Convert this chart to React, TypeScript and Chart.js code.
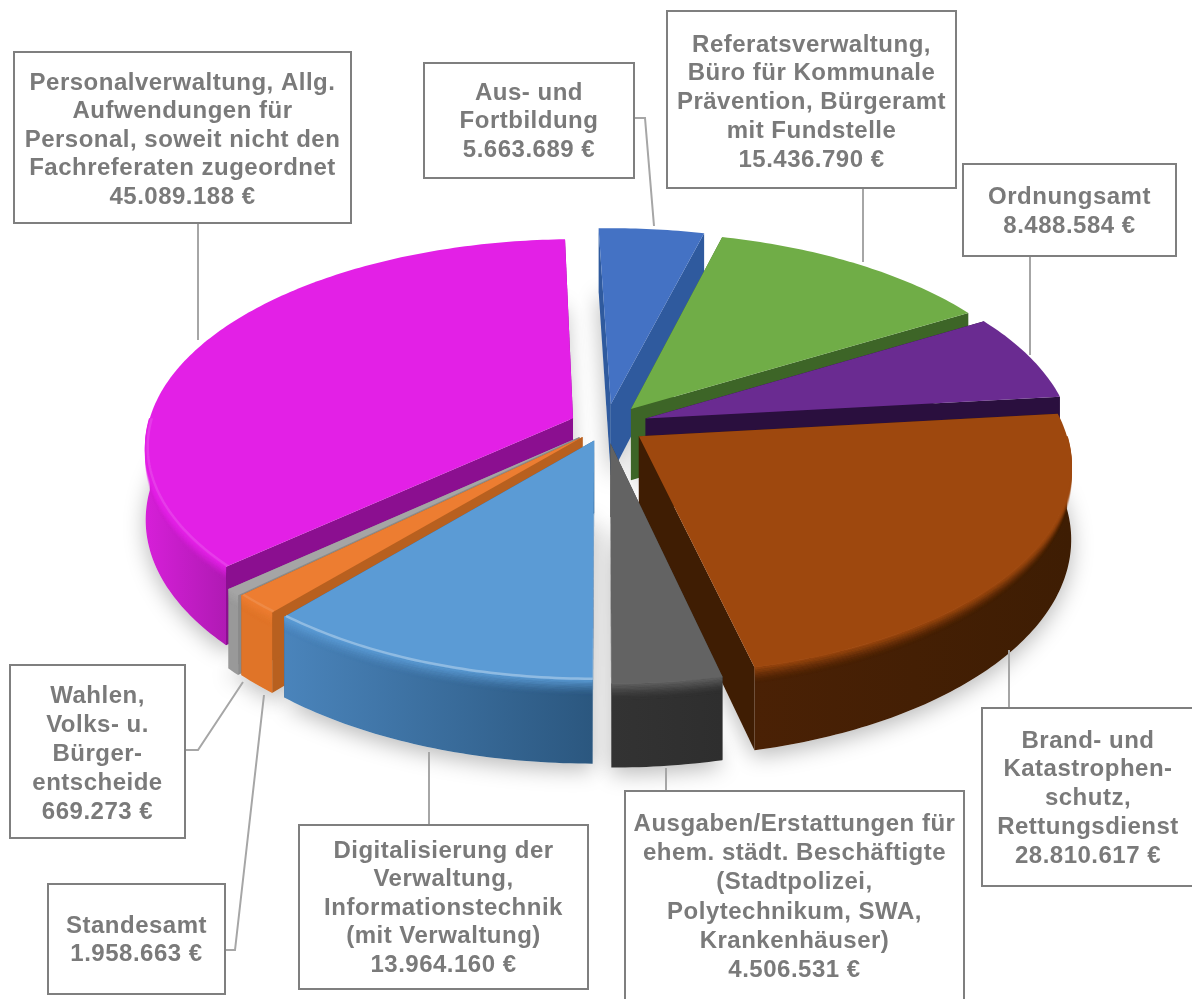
import React, { useEffect, useRef } from "react";
import { Chart, registerables } from "chart.js";

Chart.register(...registerables);

const categories: string[][] = [
  ["Aus- und", "Fortbildung"],
  ["Referatsverwaltung,", "Büro für Kommunale", "Prävention, Bürgeramt", "mit Fundstelle"],
  ["Ordnungsamt"],
  ["Brand- und", "Katastrophen-", "schutz,", "Rettungsdienst"],
  ["Ausgaben/Erstattungen für", "ehem. städt. Beschäftigte", "(Stadtpolizei,", "Polytechnikum, SWA,", "Krankenhäuser)"],
  ["Digitalisierung der", "Verwaltung,", "Informationstechnik", "(mit Verwaltung)"],
  ["Standesamt"],
  ["Wahlen,", "Volks- u.", "Bürger-", "entscheide"],
  ["Personalverwaltung, Allg.", "Aufwendungen für", "Personal, soweit nicht den", "Fachreferaten zugeordnet"],
];
const values = [5663689, 15436790, 8488584, 28810617, 4506531, 13964160, 1958663, 669273, 45089188];
const explode = [44, 42, 42, 40, 38, 34, 34, 36, 36];
const topColors = ["#4472c4", "#70ad47", "#6a2b91", "#9e480e", "#636363", "#5b9bd5", "#ed7d31", "#a5a5a5", "#e320e6"];
const faceColors = ["#2f5a9e", "#3d6527", "#2a0f3e", "#3f1d03", "#3a3a3a", "#2f5f8f", "#b8601f", "#8a8a8a", "#8b0f90"];
const wallLeft = ["#2f5a9e", "#4a7a2c", "#451b63", "#4a2105", "#333333", "#4a84bb", "#e07428", "#999999", "#d61fd8"];
const wallRight = ["#2f5a9e", "#4a7a2c", "#3a1554", "#3e1d03", "#2e2e2e", "#2b577f", "#e07428", "#999999", "#b01ab4"];
const rimHighlight = [0, 0, 0, 0, 0, 0.32, 0.1, 0, 0.12];

const labelBoxes = [
  { x: 424, y: 63, w: 210, h: 115, first: 93, step: 28.5 },
  { x: 667, y: 11, w: 289, h: 177, first: 45, step: 28.8 },
  { x: 963, y: 164, w: 213, h: 92, first: 197, step: 29 },
  { x: 982, y: 708, w: 212, h: 178, first: 741, step: 28.8 },
  { x: 625, y: 791, w: 339, h: 210, first: 824, step: 29.3 },
  { x: 299, y: 825, w: 289, h: 164, first: 851, step: 28.5 },
  { x: 48, y: 884, w: 177, h: 110, first: 926, step: 28.5 },
  { x: 10, y: 665, w: 175, h: 173, first: 696, step: 29 },
  { x: 14, y: 52, w: 337, h: 171, first: 83, step: 28.5 },
];
const leaders: number[][][] = [
  [[634, 118], [645, 118], [654, 226]],
  [[863, 188], [863, 262]],
  [[1030, 256], [1030, 355]],
  [[1009, 708], [1009, 650]],
  [[666, 791], [666, 768]],
  [[429, 825], [429, 752]],
  [[225, 950], [235, 950], [264, 695]],
  [[185, 750], [198, 750], [243, 682]],
  [[198, 223], [198, 340]],
];

const TILT = 0.48;
const PERSPECTIVE = 0.13;
const DEPTH = 72;
const BEVEL = 15;

const fmt = (n: number) => String(n).replace(/\B(?=(\d{3})+(?!\d))/g, ".") + " €";

function mix(a: string, b: string, t: number) {
  const pa = [1, 3, 5].map((i) => parseInt(a.slice(i, i + 2), 16));
  const pb = [1, 3, 5].map((i) => parseInt(b.slice(i, i + 2), 16));
  return `rgb(${pa.map((c, i) => Math.round(c + (pb[i] - c) * t)).join(",")})`;
}

function projector(el: any) {
  const R = el.outerRadius;
  const mid = (el.startAngle + el.endAngle) / 2;
  const d = el.options.offset || 0;
  return (alpha: number, r: number, z: number) => {
    const u = r * Math.cos(alpha) + d * Math.cos(mid);
    const v = r * Math.sin(alpha) + d * Math.sin(mid);
    const s = 1 / (1 - (PERSPECTIVE * v) / R);
    return [el.x + u * s, el.y + TILT * v * s + z * s];
  };
}

function samples(a0: number, a1: number) {
  const n = Math.max(2, Math.ceil((a1 - a0) / 0.015));
  return Array.from({ length: n + 1 }, (_, i) => a0 + ((a1 - a0) * i) / n);
}

function poly(ctx: CanvasRenderingContext2D, pts: number[][]) {
  ctx.beginPath();
  pts.forEach((p, i) => (i ? ctx.lineTo(p[0], p[1]) : ctx.moveTo(p[0], p[1])));
  ctx.closePath();
}

const pie3d = {
  id: "pie3d",
  beforeDatasetsDraw(chart: any) {
    const ctx: CanvasRenderingContext2D = chart.ctx;
    const arcs: any[] = chart.getDatasetMeta(0).data;
    const order = arcs
      .map((el, i) => ({ i, key: Math.sin((el.startAngle + el.endAngle) / 2) }))
      .sort((a, b) => a.key - b.key)
      .map((o) => o.i);

    // soft shadow on the ground
    ctx.save();
    ctx.shadowColor = "rgba(0,0,0,0.28)";
    ctx.shadowBlur = 22;
    ctx.shadowOffsetY = 6;
    ctx.fillStyle = "#efefef";
    arcs.forEach((el) => {
      const P = projector(el);
      const pts = [P(0, 0, DEPTH), ...samples(el.startAngle, el.endAngle).map((a) => P(a, el.outerRadius, DEPTH))];
      poly(ctx, pts);
      ctx.fill();
    });
    ctx.restore();

    order.forEach((i) => {
      const el = arcs[i];
      const P = projector(el);
      const R = el.outerRadius;
      // cut faces
      ctx.fillStyle = faceColors[i];
      [el.startAngle, el.endAngle].forEach((a) => {
        poly(ctx, [P(a, 0, 0), P(a, R, 0), P(a, R, DEPTH), P(a, 0, DEPTH)]);
        ctx.fill();
      });
      // outer wall: front half only
      const a0 = Math.max(el.startAngle, 0);
      const a1 = Math.min(el.endAngle, Math.PI);
      const frontRanges: number[][] = [];
      if (a1 > a0) frontRanges.push([a0, a1]);
      frontRanges.forEach(([f0, f1]) => {
        const sm = samples(f0, f1);
        const top = sm.map((a) => P(a, R, 0));
        const bottom = sm.map((a) => P(a, R, DEPTH));
        const xs = top.map((p) => p[0]);
        const g = ctx.createLinearGradient(Math.min(...xs), 0, Math.max(...xs), 0);
        g.addColorStop(0, wallLeft[i]);
        g.addColorStop(1, wallRight[i]);
        ctx.fillStyle = g;
        poly(ctx, [...top, ...bottom.reverse()]);
        ctx.fill();
        // rounded top edge of the wall: top colour fading into the wall
        for (let z = BEVEL; z >= 0; z -= 1) {
          const t = z / BEVEL;
          ctx.strokeStyle = topColors[i];
          ctx.globalAlpha = (1 - t) * (1 - t) * 0.9;
          ctx.lineWidth = 1.6;
          ctx.beginPath();
          sm.forEach((a, j) => {
            const p = P(a, R, z);
            j ? ctx.lineTo(p[0], p[1]) : ctx.moveTo(p[0], p[1]);
          });
          ctx.stroke();
        }
        ctx.globalAlpha = 1;
      });
      // top surface
      ctx.fillStyle = topColors[i];
      poly(ctx, [P(0, 0, 0), ...samples(el.startAngle, el.endAngle).map((a) => P(a, R, 0))]);
      ctx.fill();
      // highlight on the rim
      if (rimHighlight[i] > 0) {
        frontRanges.forEach(([f0, f1]) => {
          ctx.strokeStyle = `rgba(255,255,255,${rimHighlight[i]})`;
          ctx.lineWidth = 2.5;
          ctx.beginPath();
          samples(f0, f1).forEach((a, j) => {
            const p = P(a, R - 2, 0);
            j ? ctx.lineTo(p[0], p[1]) : ctx.moveTo(p[0], p[1]);
          });
          ctx.stroke();
        });
      }
    });
    return false;
  },
  afterDraw(chart: any) {
    const ctx: CanvasRenderingContext2D = chart.ctx;
    ctx.save();
    ctx.strokeStyle = "#a6a6a6";
    ctx.lineWidth = 2;
    leaders.forEach((l) => {
      ctx.beginPath();
      l.forEach((p, i) => (i ? ctx.lineTo(p[0], p[1]) : ctx.moveTo(p[0], p[1])));
      ctx.stroke();
    });
    ctx.textAlign = "center";
    ctx.textBaseline = "middle";
    ctx.font = "bold 24px 'Liberation Sans'";
    (ctx as any).letterSpacing = "0.5px";
    categories.forEach((lines, i) => {
      const b = labelBoxes[i];
      ctx.fillStyle = "#ffffff";
      ctx.fillRect(b.x, b.y, b.w, b.h);
      ctx.strokeStyle = "#7f7f7f";
      ctx.lineWidth = 2;
      ctx.strokeRect(b.x, b.y, b.w, b.h);
      ctx.fillStyle = "#7a7a7a";
      const cx = b.x + b.w / 2;
      [...lines, fmt(values[i])].forEach((t, j) => ctx.fillText(t, cx, b.first + j * b.step));
    });
    ctx.restore();
  },
};

export default function App() {
  const ref = useRef<HTMLCanvasElement>(null);
  useEffect(() => {
    const chart = new Chart(ref.current!, {
      type: "pie",
      data: {
        labels: categories.map((c) => c.join(" ")),
        datasets: [{ data: values, backgroundColor: topColors, offset: explode, borderWidth: 0 }],
      },
      options: {
        responsive: false,
        animation: false,
        radius: 425,
        rotation: -1.8,
        events: [],
        layout: { padding: { left: 20, right: 0, top: 0, bottom: 149 } },
        plugins: { legend: { display: false }, tooltip: { enabled: false } },
      } as any,
      plugins: [pie3d as any],
    });
    return () => chart.destroy();
  }, []);
  return (
    <div style={{ position: "absolute", left: 0, top: 0, width: 1192, height: 999, overflow: "hidden", background: "#fff" }}>
      <canvas ref={ref} width={1192} height={999} style={{ display: "block" }} />
    </div>
  );
}
